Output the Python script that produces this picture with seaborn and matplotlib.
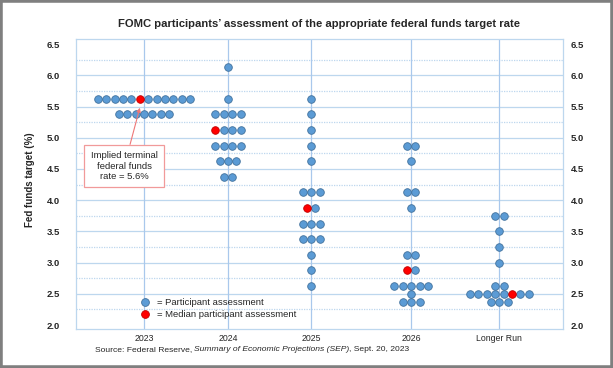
import numpy as np
import pandas as pd
import matplotlib.pyplot as plt
import seaborn as sns
from matplotlib.lines import Line2D
from matplotlib.patches import Rectangle

# Datos del dot plot (FOMC, sept. 2023)
categories = ["2023", "2024", "2025", "2026", "Longer Run"]

rates_2023 = [5.625, 5.375]
counts_2023 = [12, 7]

rates_2024 = [6.125, 5.625, 5.375, 5.125, 4.875, 4.625, 4.375]
counts_2024 = [1, 1, 4, 4, 4, 3, 2]

rates_2025 = [5.625, 5.375, 5.125, 4.875, 4.625, 4.125, 3.875, 3.625, 3.375, 3.125, 2.875, 2.625]
counts_2025 = [1, 1, 1, 1, 1, 3, 2, 3, 3, 1, 1, 1]

rates_2026 = [4.875, 4.625, 4.125, 3.875, 3.125, 2.875, 2.625, 2.5, 2.375]
counts_2026 = [2, 1, 2, 1, 2, 2, 5, 1, 3]

rates_lr = [3.75, 3.5, 3.25, 3.0, 2.625, 2.5, 2.375]
counts_lr = [2, 1, 1, 1, 2, 8, 3]

median_rates = [5.625, 5.125, 3.875, 2.875, 2.5]
median_slot = [5, 0, 0, 0, 5]   # que punto de la fila de la mediana va en rojo

y_ticks = [2.0, 2.5, 3.0, 3.5, 4.0, 4.5, 5.0, 5.5, 6.0, 6.5]

# Posiciones de las columnas (el original no esta espaciado igual)
slot_x = [0, 1.0, 1.99, 3.18, 4.23]
dot_step = 0.1

all_rates = [rates_2023, rates_2024, rates_2025, rates_2026, rates_lr]
all_counts = [counts_2023, counts_2024, counts_2025, counts_2026, counts_lr]

rows = []
for i, cat in enumerate(categories):
    for r, n in zip(all_rates[i], all_counts[i]):
        for k in range(n):
            es_mediana = (r == median_rates[i]) and (k == median_slot[i])
            rows.append({
                "cat": cat,
                "x": slot_x[i] + (k - (n - 1) / 2) * dot_step,
                "rate": r,
                "kind": "median" if es_mediana else "participant",
            })
df = pd.DataFrame(rows)

sns.set_style("white")
plt.rcParams["font.family"] = ["Liberation Sans", "DejaVu Sans"]

blue = "#5b9bd5"
blue_edge = "#41719c"
red = "#ff0000"
red_edge = "#c00000"
grid_col = "#bdd7ee"
vgrid_col = "#a9c8ec"

fig = plt.figure(figsize=(6.13, 3.68), dpi=100)
ax = fig.add_axes([0.124, 0.105, 0.794, 0.788])

# Rejilla: continua cada 0.5, punteada en los cuartos intermedios
for y in np.arange(2.5, 6.01, 0.5):
    ax.axhline(y, color=grid_col, lw=0.9, zorder=0)
for y in np.arange(2.25, 6.26, 0.5):
    ax.axhline(y, color=grid_col, lw=0.9, ls=(0, (1, 1)), zorder=0)
for x in slot_x:
    ax.axvline(x, color=vgrid_col, lw=0.9, zorder=0)

sns.scatterplot(data=df[df["kind"] == "participant"], x="x", y="rate", color=blue,
                edgecolor=blue_edge, linewidth=0.6, s=30, zorder=3, ax=ax, legend=False)
sns.scatterplot(data=df[df["kind"] == "median"], x="x", y="rate", color=red,
                edgecolor=red_edge, linewidth=0.6, s=30, zorder=4, ax=ax, legend=False)

ax.set_xlim(-0.81, 4.985)
ax.set_ylim(1.931, 6.575)
ax.set_xticks(slot_x)
ax.set_xticklabels(categories, fontsize=6.3)
ax.set_yticks(y_ticks)
ax.set_yticklabels([f"{v:.1f}" for v in y_ticks], fontsize=6.8, fontweight="bold")
ax.tick_params(axis="y", left=False, length=0, pad=11.5)
ax.tick_params(axis="x", bottom=False, length=0, pad=3.5)
ax.set_xlabel("")
ax.set_ylabel("")
for sp in ax.spines.values():
    sp.set_color(grid_col)
    sp.set_linewidth(0.9)

# Eje derecho con las mismas etiquetas
ax2 = ax.twinx()
ax2.set_ylim(ax.get_ylim())
ax2.set_yticks(y_ticks)
ax2.set_yticklabels([f"{v:.1f}" for v in y_ticks], fontsize=6.8, fontweight="bold")
ax2.tick_params(axis="y", right=False, length=0, pad=5.8)
ax2.grid(False)
for sp in ax2.spines.values():
    sp.set_visible(False)

# Titulo y etiqueta del eje
fig.text(0.52, 0.935, "FOMC participants\u2019 assessment of the appropriate federal funds target rate",
         ha="center", va="center", fontsize=8.1, fontweight="bold")
fig.text(30 / 613, 0.511, "Fed funds target (%)", rotation=90, ha="center", va="center",
         fontsize=7.0, fontweight="bold")

# Anotacion de la tasa terminal
red_x = slot_x[0] + (median_slot[0] - (counts_2023[0] - 1) / 2) * dot_step
ax.annotate("Implied terminal\nfederal funds\nrate = 5.6%", xy=(red_x, median_rates[0] - 0.145),
            xytext=(-0.235, 4.547), ha="center", va="center", fontsize=6.8, linespacing=1.15,
            bbox=dict(boxstyle="square,pad=0.7", fc="white", ec="#f19a9a", lw=0.9),
            arrowprops=dict(arrowstyle="-|>", color="#ee7777", lw=0.8, mutation_scale=6,
                            shrinkA=0, shrinkB=0), zorder=5)

# Leyenda
handles = [
    Line2D([], [], ls="none", marker="o", ms=5.6, mfc=blue, mec=blue_edge, mew=0.6),
    Line2D([], [], ls="none", marker="o", ms=5.6, mfc=red, mec=red_edge, mew=0.6),
]
fig.legend(handles, ["= Participant assessment", "= Median participant assessment"],
           loc="upper left", bbox_to_anchor=(140.3 / 613, 0.189), frameon=False,
           fontsize=6.8, handlelength=1.0, handletextpad=0.78, borderpad=0,
           borderaxespad=0, labelspacing=0.3)

# Fuente con parte en cursiva
t1 = fig.text(95 / 613, 0.04, "Source: Federal Reserve,", fontsize=6.1, va="bottom")
t2 = ax.annotate("Summary of Economic Projections (SEP)", xy=(1, 0), xycoords=t1,
                 xytext=(1.3, 0), textcoords="offset points",
                 va="bottom", ha="left", fontsize=6.1, style="italic", annotation_clip=False)
ax.annotate(", Sept. 20, 2023", xy=(1, 0), xycoords=t2, va="bottom", ha="left",
            fontsize=6.1, annotation_clip=False)

# Marco gris alrededor
fig.patches.append(Rectangle((0, 0), 1, 1, transform=fig.transFigure, fill=False,
                             edgecolor="#7f7f7f", lw=4))

plt.savefig("out.png", dpi=100)
